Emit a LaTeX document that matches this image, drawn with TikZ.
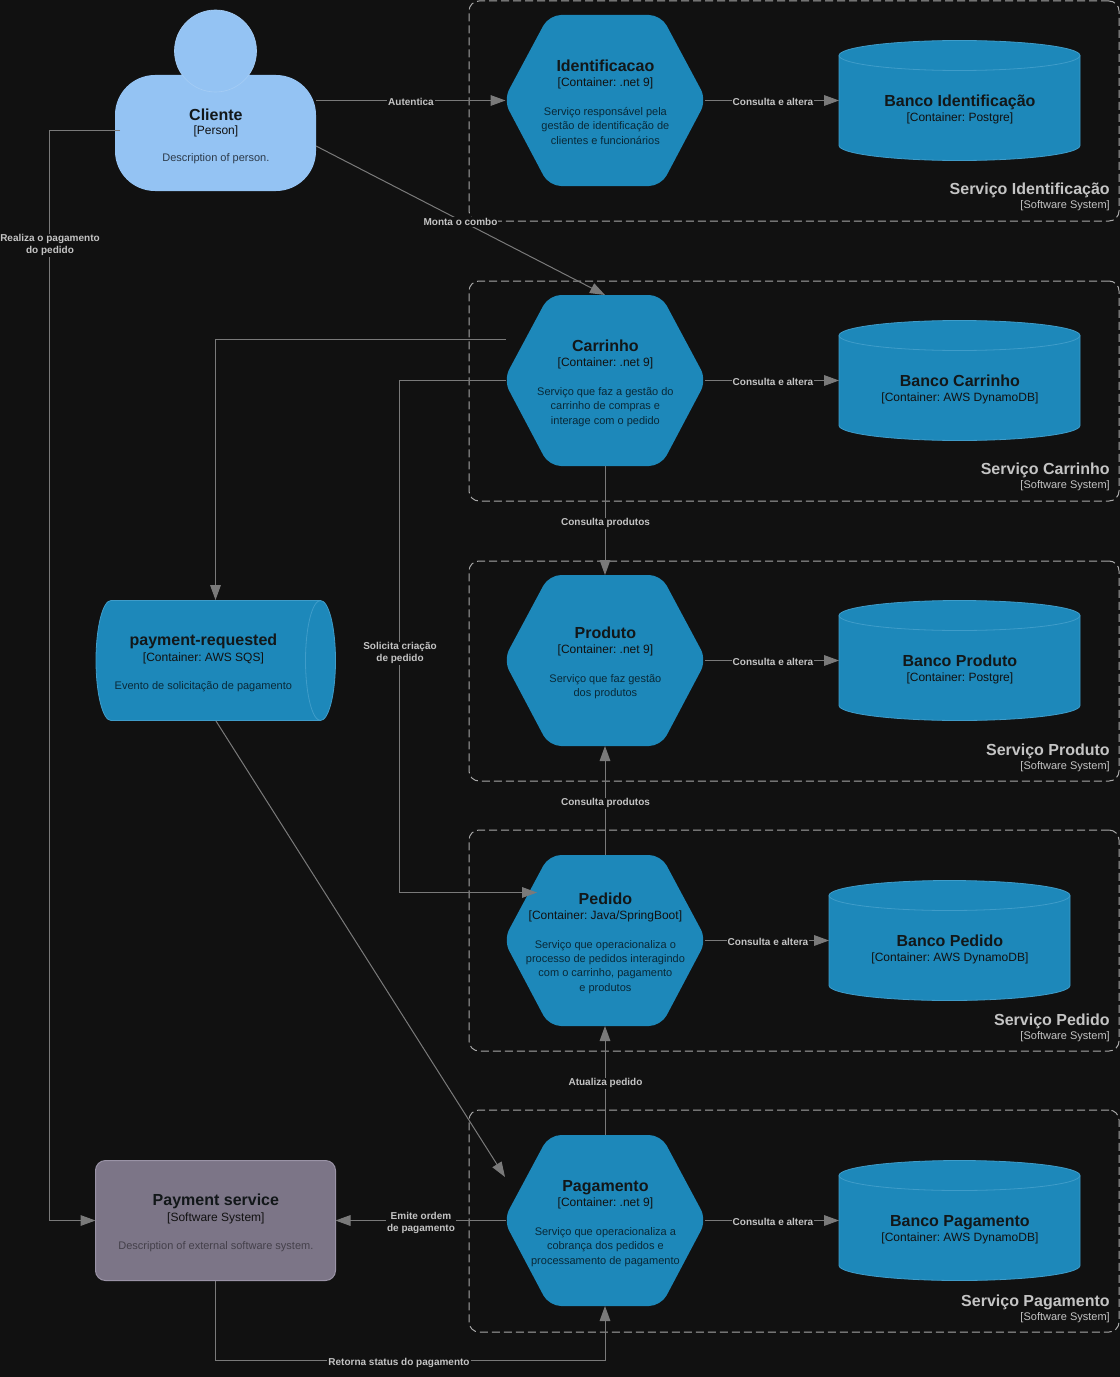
\documentclass[tikz,border=0pt]{standalone}
\usepackage{fontspec}
\setmainfont{Liberation Sans}
\usetikzlibrary{arrows.meta}
\definecolor{canvas}{HTML}{111111}
\definecolor{ctblue}{HTML}{1D88BA}
\definecolor{ctline}{HTML}{3F9CC9}
\definecolor{personblue}{HTML}{94C3F3}
\definecolor{extgrey}{HTML}{7C7587}
\definecolor{extline}{HTML}{9A93A6}
\definecolor{relgrey}{HTML}{7A7A7A}
\definecolor{frame}{HTML}{A8A8A8}
\definecolor{txtlight}{HTML}{C4C4C4}
\def\pxw{0.75pt}
\frenchspacing
\tikzset{
  anchorbox/.style={inner sep=0pt, outer sep=0pt},
  boundary/.style={draw=frame, rounded corners=7.5pt, dash pattern=on 6pt off 3pt, line width=0.75pt, anchorbox},
  rel/.style={draw=relgrey, line width=0.75pt, -{Triangle[length=11.25pt,width=8pt]}},
  rellabel/.style={font=\bfseries\fontsize{7.5}{9}\selectfont, text=txtlight, fill=canvas, align=center, inner sep=0.75pt, yshift=-0.5pt},
  ctitle/.style={font=\bfseries\fontsize{12}{14}\selectfont, text=canvas!95!ctblue, text height=8.6pt, text depth=0pt, xshift=0.3pt, yshift=-0.75pt},
  cmeta/.style={font=\fontsize{9}{11}\selectfont, text=canvas, xshift=0.3pt, yshift=-0.75pt},
  cdesc/.style={font=\fontsize{8.25}{10}\selectfont, text=black!70!ctblue, xshift=0.3pt, yshift=-0.75pt},
  btitle/.style={font=\bfseries\fontsize{12}{14}\selectfont, text=txtlight, anchor=east, inner sep=0pt, yshift=-1.5pt},
  bmeta/.style={font=\fontsize{8.25}{10}\selectfont, text=txtlight, anchor=east, inner sep=0pt, yshift=-1.5pt},
}
% hexagon: name, centre y
\newcommand{\hexbox}[2]{%
  \fill[ctblue, rounded corners=9pt] (503.5,#2) -- (549,#2-85) -- (661,#2-85) -- (706.5,#2) -- (661,#2+86) -- (549,#2+86) -- cycle;
  \node[anchorbox, minimum width=199*\pxw, minimum height=171*\pxw] (#1) at (605,#2+0.5) {};
}
% cylinder: name, left x, centre y
\newcommand{\dbbox}[3]{%
  \draw[ctline, fill=ctblue, line width=0.6pt] (#2,#3-45) arc[start angle=180, end angle=360, x radius=120.5, y radius=15] -- (#2+241,#3+45) arc[start angle=0, end angle=180, x radius=120.5, y radius=15] -- cycle;
  \draw[ctline, line width=0.6pt] (#2,#3-45) arc[start angle=180, end angle=0, x radius=120.5, y radius=15];
  \node[anchorbox, minimum width=241*\pxw, minimum height=121*\pxw] (#1) at (#2+120.5,#3) {};
}
\begin{document}
\begin{tikzpicture}[x=0.75pt, y=-0.75pt]
  \fill[canvas] (0,0) rectangle (1120,1377);
  \useasboundingbox (0,0) rectangle (1120,1377);

  % software system boundaries
  \foreach \bname/\btop/\bhigh in {bident/1/220, bcarr/281/220, bprod/561/220, bped/830/221, bpag/1110/222}
    \node[boundary, minimum width=650*\pxw, minimum height=\bhigh*\pxw, anchor=north west] (\bname) at (469,\btop) {};
  \node[btitle] (bident-t) at (1110,188) {Serviço Identificação};
  \node[bmeta] (bident-m) at (1110,204) {[Software System]};
  \node[btitle] (bcarr-t) at (1110,468) {Serviço Carrinho};
  \node[bmeta] (bcarr-m) at (1110,484) {[Software System]};
  \node[btitle] (bprod-t) at (1110,749) {Serviço Produto};
  \node[bmeta] (bprod-m) at (1110,765) {[Software System]};
  \node[btitle] (bped-t) at (1110,1019) {Serviço Pedido};
  \node[bmeta] (bped-m) at (1110,1035) {[Software System]};
  \node[btitle] (bpag-t) at (1110,1300) {Serviço Pagamento};
  \node[bmeta] (bpag-m) at (1110,1316) {[Software System]};

  % person
  \node[anchorbox, fill=personblue, rounded corners=30pt, minimum width=201*\pxw, minimum height=116*\pxw] (cliente) at (215.5,133) {};
  \node[anchorbox, circle, fill=personblue, draw=personblue!85!white, line width=0.5pt, minimum size=82*\pxw] (cabeca) at (215.5,51) {};
  \node[ctitle] (cliente-t) at (215.5,114) {Cliente};
  \node[cmeta] (cliente-m) at (215.5,130) {[Person]};
  \node[cdesc, text=black!70!personblue] (cliente-d) at (215.5,158) {Description of person.};

  % containers
  \foreach \hname/\hy in {identificacao/100, carrinho/380, produto/660, pedido/940, pagamento/1220}{
    \hexbox{\hname}{\hy}
  }
  \foreach \dname/\dx/\dy in {dbident/839/100.5, dbcarr/839/380.5, dbprod/839/660.5, dbped/829/940.5, dbpag/839/1220.5}{
    \dbbox{\dname}{\dx}{\dy}
  }

  \node[ctitle] (identificacao-t) at (605,65) {Identificacao};
  \node[cmeta] (identificacao-m) at (605,82) {[Container: .net 9]};
  \node[cdesc] (identificacao-d1) at (605,111.5) {Serviço responsável pela};
  \node[cdesc] (identificacao-d2) at (605,125.5) {gestão de identificação de};
  \node[cdesc] (identificacao-d3) at (605,140) {clientes e funcionários};

  \node[ctitle] (carrinho-t) at (605,345) {Carrinho};
  \node[cmeta] (carrinho-m) at (605,362) {[Container: .net 9]};
  \node[cdesc] (carrinho-d1) at (605,391.5) {Serviço que faz a gestão do};
  \node[cdesc] (carrinho-d2) at (605,405.5) {carrinho de compras e};
  \node[cdesc] (carrinho-d3) at (605,420.5) {interage com o pedido};

  \node[ctitle] (produto-t) at (605,632) {Produto};
  \node[cmeta] (produto-m) at (605,649) {[Container: .net 9]};
  \node[cdesc] (produto-d1) at (605,678.5) {Serviço que faz gestão};
  \node[cdesc] (produto-d2) at (605,692.5) {dos produtos};

  \node[ctitle] (pedido-t) at (605,898) {Pedido};
  \node[cmeta] (pedido-m) at (605,915) {[Container: Java/SpringBoot]};
  \node[cdesc] (pedido-d1) at (605,944.5) {Serviço que operacionaliza o};
  \node[cdesc] (pedido-d2) at (605,958.5) {processo de pedidos interagindo};
  \node[cdesc] (pedido-d3) at (605,972.5) {com o carrinho, pagamento};
  \node[cdesc] (pedido-d4) at (605,987.5) {e produtos};

  \node[ctitle] (pagamento-t) at (605,1185) {Pagamento};
  \node[cmeta] (pagamento-m) at (605,1202) {[Container: .net 9]};
  \node[cdesc] (pagamento-d1) at (605,1231.5) {Serviço que operacionaliza a};
  \node[cdesc] (pagamento-d2) at (605,1245.5) {cobrança dos pedidos e};
  \node[cdesc] (pagamento-d3) at (605,1260.5) {processamento de pagamento};

  \node[ctitle] (dbident-t) at (959.5,100) {Banco Identificação};
  \node[cmeta] (dbident-m) at (959.5,117) {[Container: Postgre]};
  \node[ctitle] (dbcarr-t) at (959.5,380) {Banco Carrinho};
  \node[cmeta] (dbcarr-m) at (959.5,397) {[Container: AWS DynamoDB]};
  \node[ctitle] (dbprod-t) at (959.5,660) {Banco Produto};
  \node[cmeta] (dbprod-m) at (959.5,677) {[Container: Postgre]};
  \node[ctitle] (dbped-t) at (949.5,940) {Banco Pedido};
  \node[cmeta] (dbped-m) at (949.5,957) {[Container: AWS DynamoDB]};
  \node[ctitle] (dbpag-t) at (959.5,1220) {Banco Pagamento};
  \node[cmeta] (dbpag-m) at (959.5,1237) {[Container: AWS DynamoDB]};

  % queue
  \draw[ctline, fill=ctblue, line width=0.6pt] (320.5,600.5) -- (111,600.5) arc[start angle=270, end angle=90, x radius=15, y radius=60] -- (320.5,720.5) arc[start angle=90, end angle=-90, x radius=15, y radius=60];
  \draw[ctline, line width=0.6pt] (320.5,600.5) arc[start angle=270, end angle=90, x radius=15, y radius=60];
  \node[anchorbox, minimum width=241*\pxw, minimum height=121*\pxw] (fila) at (215.5,660.5) {};
  \node[ctitle] (fila-t) at (203,639) {payment-requested};
  \node[cmeta] (fila-m) at (203,657) {[Container: AWS SQS]};
  \node[cdesc] (fila-d) at (203,685.5) {Evento de solicitação de pagamento};

  % external system
  \node[anchorbox, fill=extgrey, draw=extline, line width=0.75pt, rounded corners=7.5pt, minimum width=240*\pxw, minimum height=120*\pxw] (pagext) at (215.5,1220.5) {};
  \node[ctitle] (pagext-t) at (215.5,1199) {Payment service};
  \node[cmeta] (pagext-m) at (215.5,1217) {[Software System]};
  \node[cdesc, text=black!45!extgrey] (pagext-d) at (215.5,1245.5) {Description of external software system.};

  % relations
  \coordinate (cliente-a) at (120,130.5);
  \coordinate (cliente-b) at (316,146);
  \coordinate (carrinho-a) at (506,339.5);
  \coordinate (pedido-a) at (537,892.5);
  \coordinate (fila-a) at (216,721);
  \coordinate (pagamento-a) at (505,1177);
  \coordinate (pagext-a) at (215.5,1360.5);
  \draw[rel] (cliente.east |- identificacao.west) -- (identificacao.west);
  \draw[rel] (cliente-b) -- (carrinho.north);
  \draw[rel] (cliente-a) -- (49.5,130.5) -- (49.5,1220.5) -- (pagext.west);
  \draw[rel] (carrinho-a) -- (215.5,339.5) -- (fila.north);
  \draw[rel] (carrinho.west) -- (399.5,380.5) -- (399.5,892.5) -- (pedido-a);
  \draw[rel] (carrinho.south) -- (produto.north);
  \draw[rel] (pedido.north) -- (produto.south);
  \draw[rel] (pagamento.north) -- (pedido.south);
  \draw[rel] (fila-a) -- (pagamento-a);
  \draw[rel] (pagamento.west) -- (pagext.east);
  \draw[rel] (pagext.south) -- (pagext-a) -| (pagamento.south);
  \foreach \hname/\dname in {identificacao/dbident, carrinho/dbcarr, produto/dbprod, pedido/dbped, pagamento/dbpag}{
    \draw[rel] (\hname.east) -- (\dname.west);
  }

  \node[rellabel] (l-autentica) at (411,101) {Autentica};
  \node[rellabel] (l-combo) at (460.5,221.5) {Monta o combo};
  \node[rellabel] (l-realiza) at (50,244.5) {Realiza o pagamento\\do pedido};
  \node[rellabel] (l-solicita) at (400,652.5) {Solicita criação\\de pedido};
  \node[rellabel] (l-prod1) at (605.5,522.5) {Consulta produtos};
  \node[rellabel] (l-prod2) at (605.5,802.5) {Consulta produtos};
  \node[rellabel] (l-atualiza) at (605.5,1082.5) {Atualiza pedido};
  \node[rellabel] (l-emite) at (421,1222.5) {Emite ordem\\de pagamento};
  \node[rellabel] (l-retorna) at (399,1362.5) {Retorna status do pagamento};
  \node[rellabel] (l-db1) at (773,101.5) {Consulta e altera};
  \node[rellabel] (l-db2) at (773,381.5) {Consulta e altera};
  \node[rellabel] (l-db3) at (773,661.5) {Consulta e altera};
  \node[rellabel] (l-db4) at (768,941.5) {Consulta e altera};
  \node[rellabel] (l-db5) at (773,1221.5) {Consulta e altera};
\end{tikzpicture}
\end{document}
